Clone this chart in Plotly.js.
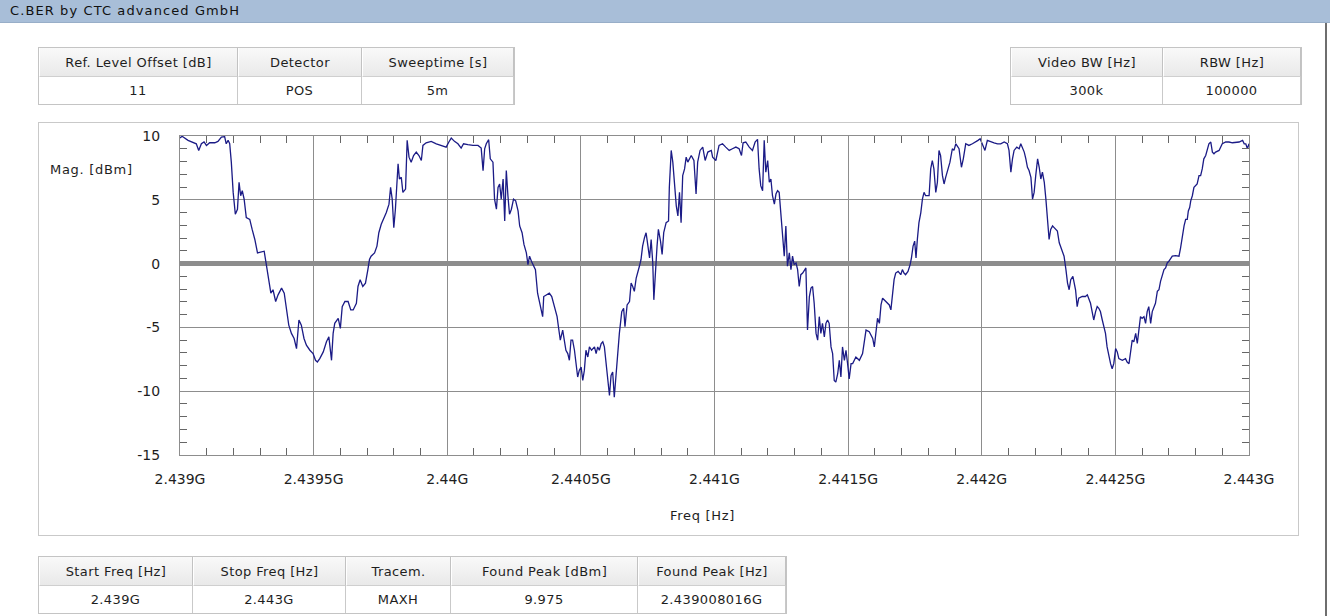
<!DOCTYPE html>
<html>
<head>
<meta charset="utf-8">
<script src="https://cdn.plot.ly/plotly-3.0.1.min.js"></script>
<style>
  html, body { margin:0; padding:0; background:#fff; }
  body { width:1330px; height:616px; position:relative; overflow:hidden; font-family:"DejaVu Sans", sans-serif; color:#1e1e1e; }
  .abs { position:absolute; }
  #titlebar { left:0; top:0; width:1330px; height:22px; background:#a8bed8; border-bottom:1px solid #98aec8; }
  #titlebar span { position:absolute; left:10px; top:3px; font-size:13px; letter-spacing:1.1px; color:#111; }
  #frame { left:38px; top:122px; width:1259px; height:412px; border:1px solid #c9c9c9; }
  #edge { left:1325px; top:23px; width:2px; height:593px; background:#6e6e6e; }
  .tbl { position:absolute; border:1px solid #c4c4c4; background:#fff; }
  .cell { position:absolute; text-align:center; font-size:13px; letter-spacing:0.4px; box-sizing:border-box; }
  .hdr { background:linear-gradient(#f9f9f9, #e9e9e9); border-right:1px solid #c2c2c2; border-bottom:1px solid #cfcfcf; border-left:1px solid #fff; }
  .val { background:#fff; border-right:1px solid #c9c9c9; }
  .lbl { position:absolute; font-size:13px; letter-spacing:0.7px; color:#1e1e1e; white-space:nowrap; }
  #plot { position:absolute; left:0; top:0; width:1330px; height:616px; }
</style>
</head>
<body>
<div id="titlebar" class="abs"><span>C.BER by CTC advanced GmbH</span></div>
<div id="frame" class="abs"></div>
<div id="edge" class="abs"></div>
<div id="plot"></div>
<div class="lbl" style="left:50px; top:162px;">Mag. [dBm]</div>
<div class="lbl" style="left:670px; top:508px;">Freq [Hz]</div>
<div id="tables"></div>
<script>
// ---- table contents ----
const topLeftHeaders = ["Ref. Level Offset [dB]", "Detector", "Sweeptime [s]"];
const topLeftValues  = ["11", "POS", "5m"];
const topRightHeaders = ["Video BW [Hz]", "RBW [Hz]"];
const topRightValues  = ["300k", "100000"];
const bottomHeaders = ["Start Freq [Hz]", "Stop Freq [Hz]", "Tracem.", "Found Peak [dBm]", "Found Peak [Hz]"];
const bottomValues  = ["2.439G", "2.443G", "MAXH", "9.975", "2.439008016G"];

// ---- axis ticks ----
const startFreqHz = 2.439e9;
const stopFreqHz = 2.443e9;
const xTickVals = [2.439e9, 2.4395e9, 2.44e9, 2.4405e9, 2.441e9, 2.4415e9, 2.442e9, 2.4425e9, 2.443e9];
const xTickText = ["2.439G", "2.4395G", "2.44G", "2.4405G", "2.441G", "2.4415G", "2.442G", "2.4425G", "2.443G"];
const yTickVals = [-15, -10, -5, 0, 5, 10];
const yTickText = ["-15", "-10", "-5", "0", "5", "10"];

// ---- trace (frequency offset from start, MHz) ----
const freqOffsetMHz = [
0.000,0.008,0.030,0.049,0.061,0.070,0.080,0.090,0.099,0.111,0.130,0.142,0.155,0.167,0.173,0.180,0.186,0.192,0.199,0.207,
0.215,0.221,0.227,0.233,0.240,0.248,0.261,0.270,0.280,0.290,0.305,0.315,0.323,0.330,0.340,0.348,0.358,0.367,0.380,0.390,
0.398,0.407,0.417,0.427,0.436,0.445,0.454,0.464,0.473,0.486,0.498,0.507,0.514,0.523,0.536,0.548,0.557,0.567,0.573,0.579,
0.592,0.600,0.607,0.617,0.629,0.639,0.648,0.660,0.666,0.674,0.684,0.694,0.703,0.709,0.715,0.728,0.737,0.744,0.753,0.761,
0.772,0.782,0.788,0.794,0.800,0.806,0.812,0.816,0.821,0.828,0.834,0.844,0.850,0.857,0.865,0.874,0.884,0.894,0.903,0.909,
0.921,0.940,0.959,0.978,0.996,1.006,1.015,1.027,1.040,1.052,1.061,1.077,1.096,1.115,1.127,1.134,1.140,1.146,1.155,1.161,
1.171,1.177,1.184,1.190,1.196,1.202,1.209,1.215,1.221,1.227,1.233,1.240,1.248,1.256,1.265,1.271,1.280,1.287,1.296,1.302,
1.308,1.315,1.321,1.330,1.338,1.345,1.351,1.357,1.361,1.370,1.382,1.391,1.401,1.411,1.416,1.423,1.432,1.438,1.444,1.451,
1.457,1.463,1.469,1.476,1.482,1.488,1.494,1.501,1.507,1.513,1.519,1.526,1.532,1.540,1.551,1.557,1.563,1.569,1.576,1.582,
1.588,1.594,1.600,1.607,1.613,1.619,1.625,1.632,1.638,1.644,1.653,1.660,1.665,1.673,1.682,1.688,1.694,1.700,1.707,1.713,
1.719,1.725,1.731,1.738,1.744,1.750,1.757,1.763,1.769,1.773,1.779,1.785,1.790,1.798,1.804,1.810,1.819,1.828,1.831,1.838,
1.844,1.850,1.857,1.863,1.869,1.875,1.881,1.888,1.894,1.900,1.906,1.913,1.923,1.931,1.937,1.946,1.956,1.965,1.975,1.988,
1.993,2.005,2.017,2.030,2.042,2.055,2.067,2.080,2.092,2.101,2.107,2.117,2.130,2.142,2.152,2.161,2.167,2.173,2.180,2.186,
2.192,2.199,2.205,2.211,2.217,2.224,2.230,2.236,2.242,2.248,2.255,2.261,2.267,2.273,2.280,2.286,2.292,2.298,2.305,2.311,
2.317,2.323,2.330,2.336,2.342,2.348,2.355,2.361,2.367,2.373,2.380,2.386,2.392,2.398,2.404,2.411,2.417,2.423,2.429,2.436,
2.442,2.448,2.454,2.461,2.467,2.473,2.479,2.486,2.492,2.498,2.504,2.511,2.517,2.529,2.542,2.554,2.567,2.579,2.592,2.598,
2.604,2.610,2.617,2.623,2.629,2.642,2.654,2.660,2.665,2.672,2.678,2.687,2.697,2.703,2.709,2.715,2.724,2.732,2.737,2.743,
2.749,2.754,2.759,2.765,2.772,2.778,2.784,2.790,2.803,2.809,2.815,2.821,2.828,2.834,2.840,2.846,2.853,2.859,2.865,2.874,
2.881,2.890,2.896,2.903,2.915,2.924,2.931,2.940,2.952,2.965,2.978,2.986,2.994,3.003,3.012,3.021,3.034,3.046,3.059,3.071,
3.084,3.096,3.102,3.109,3.115,3.121,3.131,3.140,3.146,3.152,3.159,3.165,3.171,3.177,3.184,3.190,3.196,3.202,3.209,3.215,
3.221,3.227,3.234,3.240,3.246,3.252,3.258,3.265,3.271,3.277,3.283,3.290,3.296,3.302,3.308,3.315,3.321,3.327,3.333,3.341,
3.351,3.357,3.363,3.376,3.388,3.395,3.401,3.407,3.413,3.419,3.426,3.432,3.438,3.444,3.451,3.457,3.463,3.469,3.476,3.482,
3.488,3.494,3.501,3.507,3.513,3.526,3.538,3.544,3.551,3.557,3.563,3.569,3.576,3.582,3.588,3.594,3.600,3.607,3.613,3.619,
3.625,3.632,3.638,3.644,3.650,3.657,3.663,3.669,3.675,3.682,3.688,3.694,3.700,3.707,3.713,3.725,3.738,3.744,3.750,3.757,
3.763,3.769,3.773,3.778,3.782,3.788,3.794,3.800,3.806,3.813,3.819,3.825,3.831,3.838,3.844,3.850,3.857,3.863,3.869,3.875,
3.888,3.900,3.913,3.925,3.938,3.951,3.963,3.976,3.982,3.988,3.994,4.000
];
const magDbm = [
9.85,9.975,9.66,9.47,9.39,8.87,9.39,9.53,9.26,9.47,9.47,9.58,9.92,9.95,9.39,9.66,9.39,7.95,5.58,3.87,
4.26,6.37,5.32,5.71,5.05,3.61,3.47,2.68,1.89,0.84,0.89,0.97,-0.08,-1.00,-2.32,-2.05,-2.97,-2.45,-1.92,-2.32,
-3.37,-4.82,-5.47,-5.87,-6.66,-4.42,-4.82,-5.87,-6.39,-6.79,-7.05,-7.58,-7.71,-7.45,-6.92,-6.13,-5.74,-7.58,-5.47,-4.68,
-4.29,-5.08,-3.37,-2.97,-2.97,-3.63,-3.63,-3.11,-1.79,-1.26,-1.79,-1.53,-0.47,0.32,0.58,0.84,1.37,2.42,3.08,3.47,
4.00,4.66,5.97,5.05,2.82,4.26,6.37,7.82,6.63,6.76,5.58,5.84,9.66,8.34,7.95,8.47,8.74,8.47,8.08,9.26,
9.47,9.58,9.39,9.26,9.13,9.53,9.84,9.58,9.39,9.05,9.39,9.32,9.26,9.26,9.05,7.29,9.00,9.39,9.71,8.21,
7.95,5.05,4.26,5.97,6.24,5.05,6.63,3.34,7.29,5.32,3.87,4.26,5.05,4.92,4.13,2.95,2.42,1.50,0.84,-0.08,
0.58,0.18,-0.08,-0.47,-2.32,-2.97,-3.63,-4.16,-2.58,-2.45,-2.32,-2.58,-3.37,-4.16,-4.95,-6.00,-5.21,-6.00,-6.79,-7.05,
-7.58,-6.00,-6.00,-6.79,-7.84,-8.89,-8.37,-8.11,-9.16,-8.37,-6.79,-7.32,-6.53,-6.79,-6.53,-7.05,-6.53,-6.79,-6.26,-6.13,
-6.53,-7.84,-9.42,-10.34,-8.76,-8.50,-10.47,-8.63,-6.79,-5.47,-3.76,-3.50,-4.95,-3.24,-2.97,-1.53,-1.79,-2.18,-1.13,-0.74,
-0.21,0.32,1.37,2.03,2.42,1.50,0.45,1.89,0.05,-2.84,-0.21,1.37,2.68,1.76,0.71,2.42,3.21,3.34,5.97,8.87,
7.95,6.37,4.53,3.74,5.58,3.21,6.89,7.42,8.34,7.95,8.21,8.47,8.08,5.45,7.95,8.87,9.13,8.08,8.74,8.87,
8.34,8.08,9.26,9.39,9.13,8.87,9.00,9.13,9.00,8.47,9.47,9.53,9.13,8.87,9.53,9.74,7.42,6.11,5.71,9.66,
7.16,8.08,6.37,6.63,5.32,4.66,5.45,5.71,5.58,4.13,1.89,0.58,2.95,-0.21,0.84,-0.47,0.58,-0.08,0.05,-0.47,
-1.79,-0.87,-0.74,-0.47,-0.34,-5.21,-2.58,-1.92,-1.79,-3.11,-5.47,-6.00,-4.16,-5.47,-4.68,-5.74,-4.68,-4.42,-4.68,-6.53,
-7.05,-9.16,-9.29,-8.63,-7.58,-8.89,-6.53,-7.58,-6.79,-7.84,-9.03,-7.84,-7.84,-7.32,-7.58,-7.05,-5.21,-5.34,-5.87,-6.53,
-5.21,-4.29,-4.68,-3.24,-2.71,-2.97,-3.24,-3.63,-2.58,-1.26,-0.74,-0.61,-0.87,-0.47,-0.74,-0.87,-0.61,-0.08,0.45,1.37,
1.76,0.45,1.89,3.21,4.00,5.05,5.58,5.32,5.32,7.42,8.08,7.42,5.58,6.37,8.87,8.47,6.89,6.24,6.76,7.42,
7.95,9.00,8.87,9.39,9.00,7.55,8.21,9.39,9.26,9.39,9.53,9.66,9.79,9.39,8.87,9.66,9.53,9.47,9.39,9.39,
9.53,9.39,8.87,7.16,8.21,8.87,9.13,9.00,9.39,9.13,8.74,8.21,7.55,7.29,6.76,5.05,5.58,6.89,8.21,7.55,
6.63,7.16,6.37,5.05,3.74,1.89,2.68,2.95,2.82,2.68,2.55,1.63,1.24,0.84,0.58,-0.47,-1.53,-2.05,-1.26,-1.00,
-2.05,-3.37,-2.71,-2.58,-2.58,-2.45,-2.84,-3.11,-3.76,-4.42,-3.76,-3.37,-3.50,-3.76,-4.42,-4.95,-5.47,-6.53,-7.32,-7.84,
-8.24,-7.84,-6.66,-6.92,-7.45,-7.58,-7.45,-7.71,-7.84,-6.79,-6.00,-6.13,-5.47,-6.26,-5.21,-4.16,-4.29,-4.16,-4.68,-3.76,
-3.37,-4.68,-3.76,-3.50,-3.11,-2.18,-2.05,-1.39,-1.00,-0.47,-0.34,0.05,0.18,0.45,0.58,0.63,0.58,1.24,2.16,2.95,
3.47,3.47,4.13,4.39,4.92,5.32,5.97,6.11,6.24,6.89,6.89,7.42,8.21,8.47,8.87,9.39,9.53,8.74,8.61,8.74,
8.87,9.39,9.53,9.53,9.47,9.53,9.53,9.66,9.39,9.39,9.00,9.39
];

// ---- tables (HTML) ----
function makeTable(left, top, colEdges, headers, values) {
  const hdrH = 29, valH = 27;
  const t = document.createElement('div');
  t.className = 'tbl';
  t.style.left = left + 'px';
  t.style.top = top + 'px';
  t.style.width = (colEdges[colEdges.length - 1] - colEdges[0]) + 'px';
  t.style.height = (hdrH + valH) + 'px';
  for (let i = 0; i < headers.length; i++) {
    const w = colEdges[i + 1] - colEdges[i];
    const x = colEdges[i] - colEdges[0];
    const h = document.createElement('div');
    h.className = 'cell hdr';
    h.style.cssText = `left:${x}px;top:0;width:${w}px;height:${hdrH}px;line-height:${hdrH}px;`;
    h.textContent = headers[i];
    t.appendChild(h);
    const v = document.createElement('div');
    v.className = 'cell val';
    v.style.cssText = `left:${x}px;top:${hdrH}px;width:${w}px;height:${valH}px;line-height:${valH}px;`;
    v.textContent = values[i];
    t.appendChild(v);
  }
  document.getElementById('tables').appendChild(t);
}
makeTable(38, 47, [38, 237, 361, 513], topLeftHeaders, topLeftValues);
makeTable(1010, 47, [1010, 1162, 1300], topRightHeaders, topRightValues);
makeTable(38, 556, [38, 192, 345, 450, 637, 785], bottomHeaders, bottomValues);

// ---- chart ----
const xHz = freqOffsetMHz.map(m => startFreqHz + m * 1e6);
const gridCol = '#8d8d8d';
const tickFont = { family: 'DejaVu Sans, sans-serif', size: 14, color: '#1e1e1e' };

const trace = {
  type: 'scatter', mode: 'lines',
  x: xHz, y: magDbm,
  line: { color: '#1b1b86', width: 1.3 },
  hoverinfo: 'skip'
};

const layout = {
  width: 1330, height: 616,
  margin: { l: 180, r: 81, t: 136, b: 161, pad: 0 },
  paper_bgcolor: 'rgba(0,0,0,0)',
  plot_bgcolor: '#ffffff',
  showlegend: false,
  xaxis: {
    range: [startFreqHz, stopFreqHz],
    tickmode: 'array', tickvals: xTickVals, ticktext: xTickText,
    showgrid: true, gridcolor: gridCol, gridwidth: 1,
    showline: true, linecolor: gridCol, linewidth: 1, mirror: 'ticks',
    ticks: 'inside', ticklen: 7, tickcolor: gridCol,
    minor: { dtick: 1e5, tick0: startFreqHz, ticks: 'inside', ticklen: 7, tickcolor: '#666', showgrid: false },
    tickfont: tickFont, ticklabelstandoff: 11,
    zeroline: false, fixedrange: true
  },
  yaxis: {
    range: [-15, 10],
    tickmode: 'array', tickvals: yTickVals, ticktext: yTickText,
    showgrid: true, gridcolor: gridCol, gridwidth: 1,
    showline: true, linecolor: gridCol, linewidth: 1, mirror: 'ticks',
    ticks: 'inside', ticklen: 7, tickcolor: gridCol,
    minor: { dtick: 1, tick0: 0, ticks: 'inside', ticklen: 7, tickcolor: '#666', showgrid: false },
    tickfont: tickFont, ticklabelstandoff: 16,
    zeroline: true, zerolinecolor: gridCol, zerolinewidth: 5,
    fixedrange: true
  }
};

Plotly.newPlot('plot', [trace], layout, { staticPlot: true, displayModeBar: false });
</script>
</body>
</html>
